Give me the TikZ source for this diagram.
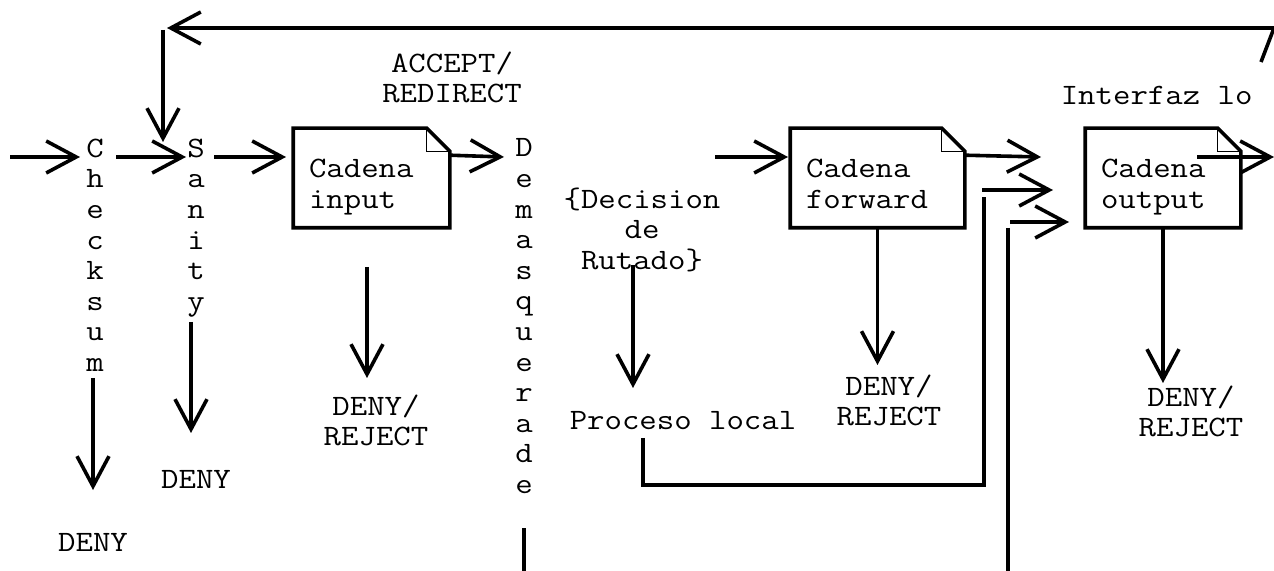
\documentclass[tikz,border=0pt]{standalone}
\usepackage{fontspec}
\setmonofont[FakeStretch=1.143]{Latin Modern Mono}
\usetikzlibrary{positioning,arrows.meta}

\begin{document}
\begin{tikzpicture}[x=0.5pt,y=-0.5pt,
    ->,
    >={Straight Barb[length=15pt,width=16pt]},
    line width=1.8pt,
    every node/.style={font=\ttfamily\fontsize{14.8pt}{15.3pt}\selectfont},
    bb/.style={%
      rectangle, draw=none, minimum height=48pt,
      inner xsep=7pt, align=left, text height=17pt, text depth=17pt
    },
    txt/.style={%
      inner sep=0pt, anchor=north, align=center
    }
]
    \useasboundingbox (0,0) rectangle (1274,571);

    % filtros verticales
    \node[txt] (chk) at (95,137)  {C\\h\\e\\c\\k\\s\\u\\m};
    \node[txt] (san) at (196,137) {S\\a\\n\\i\\t\\y};
    \node[txt] (dem) at (524,137) {D\\e\\m\\a\\s\\q\\u\\e\\r\\a\\d\\e};

    % cadenas
    \node[bb, text width=62.5pt] (inp) at (371.5,178) {Cadena\\input};
    \node[bb, text width=71.5pt] (fwd) at (877.5,178) {Cadena\\forward};
    \node[bb, text width=62pt]   (out) at (1163,178)  {Cadena\\output};

    \node[txt] (acc) at (452,50) {ACCEPT/\\REDIRECT};
    \node[txt, anchor=north west] (ifz) at (1059,84) {Interfaz lo};
    \node[txt] (dec) at (642,186) {\{Decision\\de\\Rutado\}};
    \node[txt] (loc) at (683,410) {Proceso local};

    \node[txt] (d1) at (93,532)   {DENY};
    \node[txt] (d2) at (196,469)  {DENY};
    \node[txt] (d3) at (376,393)  {DENY/\\REJECT};
    \node[txt] (d4) at (889,373)  {DENY/\\REJECT};
    \node[txt] (d5) at (1191,384) {DENY/\\REJECT};

    % hoja con esquina doblada
    \foreach \b in {inp,fwd,out}{
      \draw[-] (\b.north west) -- ([xshift=-11.5pt]\b.north east)
        -- ([yshift=-11.5pt]\b.north east) -- (\b.south east)
        -- (\b.south west) -- cycle;
      \draw[-, line width=0.6pt] ([xshift=-11.5pt]\b.north east)
        |- ([yshift=-11.5pt]\b.north east);
    }

    \coordinate (e0) at (10,157);   \coordinate (e1) at (80,157);
    \coordinate (e2) at (116,157);  \coordinate (e3) at (186,157);
    \coordinate (e4) at (214,157);  \coordinate (e5) at (286,157);
    \coordinate (e6) at (504,157);  \coordinate (e7) at (715,157);
    \coordinate (e8) at (788,157);  \coordinate (e9) at (1041,157);
    \coordinate (f0) at (1197,157); \coordinate (f1) at (1274,157);
    \coordinate (g0) at (982,190);  \coordinate (g1) at (1053,190);
    \coordinate (g2) at (1010,222); \coordinate (g3) at (1069,222);
    \coordinate (r0) at (1274,28);  \coordinate (r1) at (167,28);
    \coordinate (r2) at (163,30);   \coordinate (r3) at (163,142);
    \coordinate (r4) at (1261,62);
    \coordinate (p0) at (643,438);  \coordinate (p1) at (984,197);
    \coordinate (q0) at (1008,228); \coordinate (q1) at (1008,571);
    \coordinate (m0) at (524,528);  \coordinate (m1) at (524,571);
    \coordinate (k0) at (93,378);   \coordinate (k1) at (93,490);
    \coordinate (s0) at (191,322);  \coordinate (s1) at (191,433);
    \coordinate (i0) at (367,267);  \coordinate (i1) at (367,378);
    \coordinate (c0) at (633,265);  \coordinate (c1) at (633,388);

    % flujo principal
    \draw (e0) -- (e1);
    \draw (e2) -- (e3);
    \draw (e4) -- (e5);
    \draw ([yshift=-13.5pt]inp.north east) -- (e6);
    \draw (e7) -- (e8);
    \draw ([yshift=-13.5pt]fwd.north east) -- (e9);
    \draw (g0) -- (g1);
    \draw (g2) -- (g3);
    \draw (f0) -- (f1);
    \draw (r0) -- (r1);
    \draw (r2) -- (r3);
    \draw[-] (r0) -- (r4);
    \draw[-] (p0) |- (p1 |- 0,485) -- (p1);
    \draw[-] (q0) -- (q1);
    \draw[-] (m0) -- (m1);

    % descartes
    \draw (k0) -- (k1);
    \draw (s0) -- (s1);
    \draw (i0) -- (i1);
    \draw (c0) -- (c1);
    \draw (fwd.south) -- (fwd.south |- 0,365);
    \draw (out.south) -- (out.south |- 0,383);

\end{tikzpicture}
\end{document}
